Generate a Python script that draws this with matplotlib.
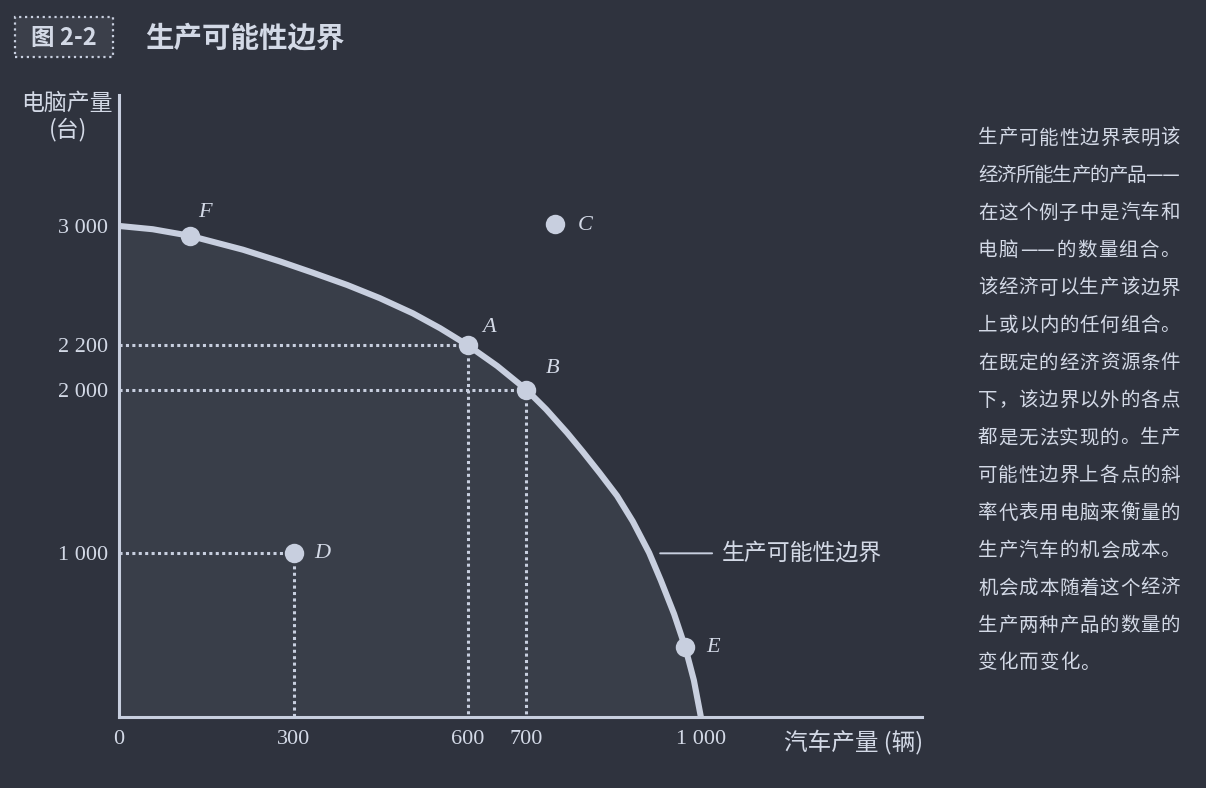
import re
import numpy as np
import matplotlib
matplotlib.use("Agg")
import matplotlib.pyplot as plt
from matplotlib.patches import Rectangle

plt.rcParams['font.family'] = ['Noto Sans CJK SC', 'DejaVu Sans']

# ---------------- data ----------------
# production possibilities frontier: cars (x) vs computers (y)
CURVE_X = [0, 58, 122, 213, 277, 333, 392, 448, 505, 552, 600, 650, 700,
           734, 770, 797, 826, 856, 883, 911, 931, 954, 973, 988, 1000]
CURVE_Y = [3000, 2978, 2934, 2841, 2762, 2687, 2605, 2517, 2415, 2315, 2200,
           2107, 2000, 1880, 1737, 1621, 1491, 1351, 1195, 1004, 836, 629,
           427, 224, 0]

POINT_NAMES = ['F', 'A', 'B', 'C', 'D', 'E']
POINT_X = [122, 600, 700, 750, 300, 973]
POINT_Y = [2934, 2200, 2000, 3010, 1000, 427]
GUIDE_POINTS = ['A', 'B', 'D']          # points with dotted guides to the axes

X_TICKS = [0, 300, 600, 700, 1000]
X_TICK_LABELS = ['0', '300', '600', '700', '1 000']
Y_TICKS = [1000, 2000, 2200, 3000]
Y_TICK_LABELS = ['1 000', '2 000', '2 200', '3 000']

# the book's schematic (non-uniform) vertical axis: value -> drawn position
SCALE_VALUES = [0, 1000, 2000, 2200, 3000, 4000]
SCALE_POS = [0, 1000, 2000, 2270, 3000, 4000]

TITLE_TAG = '图 2-2'
TITLE = '生产可能性边界'
Y_LABEL_1 = '电脑产量'
Y_LABEL_2 = '(台)'
X_LABEL = '汽车产量 (辆)'
CURVE_LABEL = '生产可能性边界'
NOTE_LINES = [
    '生产可能性边界表明该',
    '经济所能生产的产品——',
    '在这个例子中是汽车和',
    '电脑——的数量组合。',
    '该经济可以生产该边界',
    '上或以内的任何组合。',
    '在既定的经济资源条件',
    '下，该边界以外的各点',
    '都是无法实现的。生产',
    '可能性边界上各点的斜',
    '率代表用电脑来衡量的',
    '生产汽车的机会成本。',
    '机会成本随着这个经济',
    '生产两种产品的数量的',
    '变化而变化。',
]

# ---------------- style ----------------
BG = '#2f333e'
FG = '#c8cfdf'
TXT = '#d3d9e6'
W, H = 1206, 788
LABEL_OFFSETS = {'F': (6, 17), 'A': (10, 13), 'B': (14, 15),
                 'C': (16, -1), 'D': (15, 0), 'E': (15, 0)}

SV = np.array(SCALE_VALUES, float)
SP = np.array(SCALE_POS, float)


def fwd(v):
    v = np.asarray(v, float)
    return np.where((v < SV[0]) | (v > SV[-1]), v, np.interp(v, SV, SP))


def inv(p):
    p = np.asarray(p, float)
    return np.where((p < SP[0]) | (p > SP[-1]), p, np.interp(p, SP, SV))


fig = plt.figure(figsize=(W / 100, H / 100), dpi=100, facecolor=BG)
ax = fig.add_axes([119 / W, 71 / H, (922 - 119) / W, (717 - 95) / H])
ax.set_facecolor(BG)
ax.set_yscale('function', functions=(fwd, inv))
ax.set_xlim(0, 1380)
ax.set_ylim(0, 3800)

# shaded attainable region
ax.fill_between(CURVE_X, CURVE_Y, 0, color=FG, alpha=0.07, lw=0, zorder=1)
# frontier
ax.plot(CURVE_X, CURVE_Y, color=FG, lw=4.4, solid_capstyle='butt',
        solid_joinstyle='round', zorder=3, clip_on=False)

pts = {n: (x, y) for n, x, y in zip(POINT_NAMES, POINT_X, POINT_Y)}
for n in GUIDE_POINTS:
    px, py = pts[n]
    kw = dict(color=FG, lw=2.2, linestyle=(0, (1, 1.1)), dash_capstyle='butt', zorder=2)
    ax.plot([0, px], [py, py], **kw)
    ax.plot([px, px], [py, 0], **kw)

ax.plot(POINT_X, POINT_Y, 'o', ms=14, color=FG, mec='none', zorder=4, clip_on=False)
for n, x, y in zip(POINT_NAMES, POINT_X, POINT_Y):
    ax.annotate(n, (x, y), xytext=LABEL_OFFSETS[n], textcoords='offset points',
                ha='left', va='center', fontsize=16, fontstyle='italic',
                fontfamily='Liberation Serif', color=TXT, zorder=5)

# label of the frontier with leader line
ax.annotate(CURVE_LABEL, xy=(930, 1000), xytext=(1036, 1000),
            ha='left', va='center', fontsize=16.5, color=TXT,
            arrowprops=dict(arrowstyle='-', color=FG, lw=1.4,
                            shrinkA=5, shrinkB=0, relpos=(0, 0.5)))

for s in ['top', 'right']:
    ax.spines[s].set_visible(False)
for s in ['left', 'bottom']:
    ax.spines[s].set_color(FG)
    ax.spines[s].set_linewidth(2.2)

ax.set_xticks(X_TICKS, X_TICK_LABELS)
ax.set_yticks(Y_TICKS, Y_TICK_LABELS)
ax.tick_params(length=0, labelsize=16, labelcolor=TXT)
ax.tick_params(axis='y', pad=8)
ax.tick_params(axis='x', pad=9)
for t in ax.get_xticklabels() + ax.get_yticklabels():
    t.set_fontfamily('Liberation Serif')

# axis titles
fig.text(67 / W, 1 - 103 / H, Y_LABEL_1, ha='center', va='center', fontsize=16.5,
         fontweight='medium', color=TXT)
fig.text(68 / W, 1 - 130 / H, Y_LABEL_2, ha='center', va='center', fontsize=16.5,
         fontweight='medium', color=TXT)
fig.text(923 / W, 1 - 742 / H, X_LABEL, ha='right', va='center', fontsize=17,
         fontweight='medium', color=TXT)

# figure title
fig.patches.append(Rectangle((15 / W, 1 - 57 / H), 98 / W, 40 / H, transform=fig.transFigure,
                             fc='#3b3f4a', ec=FG, ls=':', lw=1.6, zorder=0))
fig.text(64 / W, 1 - 38 / H, TITLE_TAG, ha='center', va='center', fontsize=17,
         fontweight='bold', color=TXT)
fig.text(145 / W, 1 - 38 / H, TITLE, ha='left', va='center', fontsize=20.5,
         fontweight='bold', color=TXT)

# justified side note
renderer = fig.canvas.get_renderer()
x0, x1 = 978, 1180
for i, line in enumerate(NOTE_LINES):
    y = 138 + i * 37.5
    toks = re.findall(r'——|.', line)
    texts = [fig.text(0, 1 - y / H, tk, ha='left', va='center', fontsize=14,
                      fontweight='medium', color=TXT) for tk in toks]
    widths = [t.get_window_extent(renderer).width for t in texts]
    last = (i == len(NOTE_LINES) - 1)
    gap = 1.0 if last else (x1 - x0 - sum(widths)) / (len(toks) - 1)
    x = x0
    for t, w in zip(texts, widths):
        t.set_x(x / W)
        x += w + gap

fig.savefig('out.png', dpi=100, facecolor=BG)
